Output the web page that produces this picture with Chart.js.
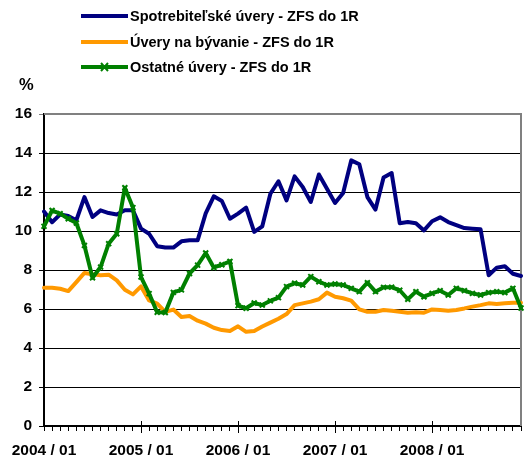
<!DOCTYPE html>
<html>
<head>
<meta charset="utf-8">
<script src="https://cdn.jsdelivr.net/npm/chart.js@4.4.1/dist/chart.umd.min.js"></script>
<style>
  html, body { margin: 0; background: #fff; overflow: hidden; }
  #wrap { position: relative; width: 527px; height: 459px; }
  canvas { display: block; }
  #legend { position: absolute; left: 81px; top: 0; font: bold 14.5px 'Liberation Sans', Arial, sans-serif; color: #000; }
  .row { position: absolute; left: 0; height: 20px; display: flex; align-items: center; white-space: nowrap; }
  .row svg { margin-right: 2px; }
  #unit { position: absolute; left: 19px; top: 75px; font: bold 16.5px 'Liberation Sans', Arial, sans-serif; }
</style>
</head>
<body>
<div id="wrap">
  <canvas id="chart"></canvas>
  <div id="legend"></div>
  <div id="unit">%</div>
</div>
<script>
// months 2004/01 .. 2008/12
const months = [];
for (let y = 2004; y <= 2008; y++) {
    for (let m = 1; m <= 12; m++) {
        months.push(y + ' / ' + String(m).padStart(2, '0'));
    }
}

const seriesNames = [
    'Spotrebiteľské úvery - ZFS do 1R',
    'Úvery na bývanie - ZFS do 1R',
    'Ostatné úvery - ZFS do 1R'
];

const consumer = [
    11.0, 10.45, 10.85, 10.77, 10.55, 11.74, 10.72, 11.06, 10.92, 10.85, 11.06, 11.06,
    10.12, 9.86, 9.22, 9.15, 9.15, 9.47, 9.52, 9.52, 10.9, 11.78, 11.54, 10.63,
    10.89, 11.2, 9.95, 10.24, 11.91, 12.55, 11.57, 12.8, 12.26, 11.49, 12.9, 12.17,
    11.44, 11.95, 13.62, 13.42, 11.74, 11.1, 12.74, 12.97, 10.4, 10.46, 10.4, 10.03,
    10.5, 10.7, 10.46, 10.3, 10.15, 10.12, 10.09, 7.73, 8.12, 8.19, 7.81, 7.69
];

const housing = [
    7.09, 7.09, 7.04, 6.92, 7.38, 7.85, 7.78, 7.73, 7.76, 7.47, 6.99, 6.75,
    7.16, 6.44, 6.28, 5.85, 5.97, 5.59, 5.64, 5.4, 5.25, 5.04, 4.92, 4.87,
    5.11, 4.83, 4.87, 5.1, 5.3, 5.5, 5.74, 6.2, 6.29, 6.38, 6.5, 6.84,
    6.63, 6.55, 6.43, 5.98, 5.86, 5.86, 5.95, 5.91, 5.86, 5.81, 5.83, 5.81,
    5.98, 5.95, 5.91, 5.95, 6.03, 6.12, 6.2, 6.29, 6.26, 6.29, 6.32, 6.32
];

const other = [
    10.24, 11.05, 10.89, 10.63, 10.41, 9.26, 7.6, 8.15, 9.35, 9.86, 12.22, 11.2,
    7.64, 6.79, 5.83, 5.82, 6.85, 6.98, 7.82, 8.25, 8.87, 8.13, 8.27, 8.44,
    6.17, 6.04, 6.31, 6.2, 6.42, 6.58, 7.15, 7.32, 7.23, 7.66, 7.4, 7.23,
    7.28, 7.23, 7.06, 6.89, 7.35, 6.89, 7.11, 7.12, 6.96, 6.5, 6.89, 6.63,
    6.8, 6.94, 6.72, 7.06, 6.94, 6.8, 6.72, 6.84, 6.89, 6.84, 7.06, 6.05
];

const yTicks = [0, 2, 4, 6, 8, 10, 12, 14, 16];

const colors = ['#000080', '#FF9900', '#008000'];
const font = "'Liberation Sans', Arial, sans-serif";

// legend in html, one row per series
const legendEl = document.getElementById('legend');
const rowCenters = [16, 41.5, 67];
seriesNames.forEach(function (name, i) {
    const row = document.createElement('div');
    row.className = 'row';
    row.style.top = (rowCenters[i] - 10) + 'px';
    let marker = '';
    if (i === 2) {
        marker = '<path d="M20 6 L27 14 M27 6 L20 14" stroke="' + colors[i] + '" stroke-width="2"/>';
    }
    row.innerHTML = '<svg width="47" height="20"><line x1="0" y1="10" x2="47" y2="10" stroke="' +
        colors[i] + '" stroke-width="4" stroke-linecap="round"/>' + marker + '</svg>' +
        '<span>' + name + '</span>';
    legendEl.appendChild(row);
});

const framePlugin = {
    id: 'frame',
    beforeDatasetsDraw(chart) {
        const { ctx, chartArea: a, scales: { x } } = chart;
        ctx.save();
        ctx.strokeStyle = '#808080';
        ctx.lineWidth = 2;
        ctx.beginPath();
        ctx.moveTo(a.left, a.top);
        ctx.lineTo(a.right, a.top);
        ctx.lineTo(a.right, a.bottom);
        ctx.stroke();
        // longer ticks at each january
        ctx.strokeStyle = '#000';
        ctx.lineWidth = 1;
        ctx.beginPath();
        months.forEach(function (m, i) {
            if (i % 12 === 0 && i > 0) {
                const px = Math.round(x.getPixelForValue(i)) + 0.5;
                ctx.moveTo(px, a.bottom - 5);
                ctx.lineTo(px, a.bottom + 7);
            }
        });
        ctx.stroke();
        ctx.restore();
    }
};

const ctx = document.getElementById('chart').getContext('2d');
const chart = new Chart(ctx, {
    type: 'line',
    data: {
        labels: months,
        datasets: [
            {
                label: seriesNames[0],
                data: consumer,
                borderColor: colors[0],
                borderWidth: 4,
                pointRadius: 0,
                order: 3
            },
            {
                label: seriesNames[1],
                data: housing,
                borderColor: colors[1],
                borderWidth: 4,
                pointRadius: 0,
                order: 2
            },
            {
                label: seriesNames[2],
                data: other,
                borderColor: colors[2],
                borderWidth: 4,
                pointStyle: 'crossRot',
                pointRadius: 3.5,
                pointBorderWidth: 2,
                pointBorderColor: colors[2],
                order: 1
            }
        ]
    },
    options: {
        responsive: true,
        maintainAspectRatio: false,
        devicePixelRatio: 1,
        animation: false,
        layout: {
            padding: { top: 114, right: 0, left: 0, bottom: 0 }
        },
        elements: {
            line: { tension: 0, borderJoinStyle: 'round', borderCapStyle: 'round' }
        },
        scales: {
            x: {
                offset: false,
                afterFit: function (s) {
                    s.height = 33;
                    s.paddingLeft = 0;
                    s.paddingRight = 0;
                },
                grid: {
                    drawOnChartArea: false,
                    color: '#000',
                    tickLength: 5
                },
                border: { color: '#000', width: 2 },
                ticks: {
                    autoSkip: false,
                    maxRotation: 0,
                    padding: 10,
                    color: '#000',
                    font: { family: font, size: 15.5, weight: 'bold' },
                    callback: function (v, i) {
                        return i % 12 === 0 ? months[i] : '';
                    }
                }
            },
            y: {
                min: yTicks[0],
                max: yTicks[yTicks.length - 1],
                afterFit: function (s) { s.width = 44; },
                afterBuildTicks: function (s) {
                    s.ticks = yTicks.map(function (v) { return { value: v }; });
                },
                grid: {
                    color: function (c) { return c.tick && c.tick.value === 16 ? '#808080' : '#000'; },
                    tickLength: 5
                },
                border: { color: '#000', width: 2 },
                ticks: {
                    padding: 7,
                    color: '#000',
                    font: { family: font, size: 15.5, weight: 'bold' }
                }
            }
        },
        plugins: {
            legend: { display: false },
            tooltip: { enabled: false }
        }
    },
    plugins: [framePlugin]
});
</script>
</body>
</html>
